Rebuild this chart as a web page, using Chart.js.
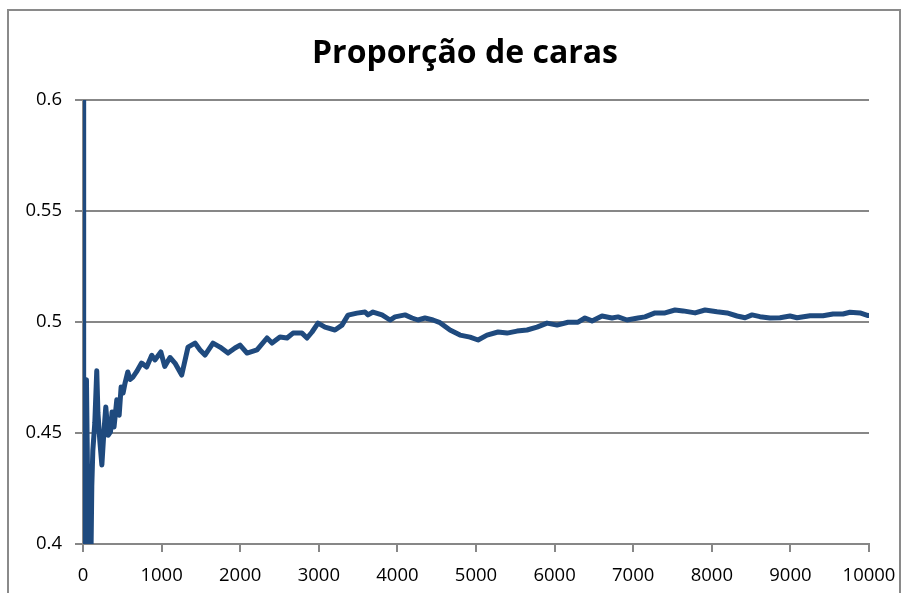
<!DOCTYPE html>
<html>
<head>
<meta charset="utf-8">
<script src="https://cdn.jsdelivr.net/npm/chart.js@4.4.1/dist/chart.umd.min.js"></script>
<style>
  html, body { margin: 0; padding: 0; background: #ffffff; overflow: hidden; }
  #wrap { position: relative; width: 914px; height: 593px; }
  #frame { position: absolute; left: 7px; top: 9px; width: 894px; height: 620px; border: 2px solid #8a8a8a; box-sizing: border-box; }
  #c { position: absolute; left: 0; top: 0; }
</style>
</head>
<body>
<div id="wrap">
  <div id="frame"></div>
  <canvas id="c" width="914" height="593"></canvas>
</div>
<script>
const TITLE = 'Proporção de caras';

// number of tosses (x)
const tosses = [
  1, 5, 12, 25, 44, 58, 75, 100, 112, 125, 150, 175, 190, 215, 240, 265, 290, 320, 350, 370,
  395, 430, 460, 485, 510, 535, 570, 600, 635, 680, 745, 810, 875, 915, 990, 1040, 1107, 1170, 1256, 1336,
  1425, 1489, 1552, 1654, 1743, 1845, 1934, 1998, 2087, 2214, 2341, 2405, 2506, 2596, 2672, 2761, 2786, 2850, 2914, 2990,
  3079, 3206, 3295, 3372, 3486, 3588, 3626, 3690, 3804, 3906, 3970, 4097, 4186, 4262, 4351, 4453, 4542, 4669, 4797, 4924,
  5026, 5140, 5280, 5395, 5522, 5649, 5776, 5904, 6031, 6171, 6298, 6387, 6476, 6603, 6730, 6807, 6921, 7061, 7150, 7278,
  7405, 7532, 7634, 7787, 7914, 8066, 8194, 8321, 8423, 8512, 8613, 8741, 8868, 8995, 9084, 9250, 9415, 9542, 9669, 9758,
  9886, 9988, 10000
];

// running proportion of heads (y)
const proportion = [
  1.0, 0.6, 0.333, 0.38, 0.474, 0.43, 0.39, 0.39, 0.426, 0.442, 0.4545, 0.478, 0.459, 0.446, 0.4356, 0.45, 0.4617, 0.449, 0.4505, 0.4595,
  0.4527, 0.465, 0.458, 0.4707, 0.468, 0.4725, 0.4775, 0.4741, 0.4752, 0.4775, 0.4815, 0.4797, 0.485, 0.4829, 0.4865, 0.480, 0.484, 0.4815, 0.4761, 0.4887,
  0.4905, 0.4874, 0.4851, 0.4905, 0.4887, 0.486, 0.4883, 0.4896, 0.486, 0.4874, 0.4928, 0.4905, 0.4932, 0.4928, 0.495, 0.495, 0.495, 0.4928, 0.4955, 0.4995,
  0.4977, 0.4964, 0.4986, 0.5031, 0.504, 0.5045, 0.5032, 0.5045, 0.5032, 0.5009, 0.5023, 0.5032, 0.5018, 0.5009, 0.5018, 0.5009, 0.4997, 0.4964, 0.4941, 0.4932,
  0.4919, 0.4941, 0.4955, 0.495, 0.4959, 0.4964, 0.4977, 0.4995, 0.4986, 0.4999, 0.4999, 0.5018, 0.5005, 0.5027, 0.5018, 0.5023, 0.5009, 0.5018, 0.5023, 0.5041,
  0.5041, 0.5054, 0.505, 0.5041, 0.5054, 0.5046, 0.5041, 0.5027, 0.5019, 0.5032, 0.5024, 0.5018, 0.5019, 0.5027, 0.5019, 0.5028, 0.5028, 0.5036, 0.5036, 0.5044,
  0.5041, 0.5029, 0.503
];

const xTickLabels = ['0', '1000', '2000', '3000', '4000', '5000', '6000', '7000', '8000', '9000', '10000'];
const yTickLabels = ['0.4', '0.45', '0.5', '0.55', '0.6'];

const GRID = '#878787';
const LINE = '#1F4A7E';
const tickFont = { family: '"Open Sans", "DejaVu Sans", sans-serif', size: 18.5 };

const points = tosses.map((n, i) => ({ x: n, y: proportion[i] }));

const titlePlugin = {
  id: 'centeredTitle',
  afterDraw(chart) {
    const ctx = chart.ctx;
    ctx.save();
    ctx.fillStyle = '#000000';
    ctx.font = 'bold 32px "Open Sans", sans-serif';
    ctx.textAlign = 'center';
    ctx.textBaseline = 'middle';
    ctx.fillText(TITLE, 465, 54);
    ctx.restore();
  }
};

new Chart(document.getElementById('c'), {
  type: 'line',
  data: {
    datasets: [{
      data: points,
      borderColor: LINE,
      borderWidth: 5,
      pointRadius: 0,
      tension: 0,
      fill: false,
      clip: 0,
      borderJoinStyle: 'round',
      borderCapStyle: 'round'
    }]
  },
  options: {
    responsive: false,
    devicePixelRatio: 1,
    animation: false,
    layout: { padding: { left: 0, right: 45, top: 100, bottom: 0 } },
    plugins: {
      legend: { display: false },
      tooltip: { enabled: false },
      title: { display: false }
    },
    scales: {
      x: {
        type: 'linear',
        min: 0,
        max: 10000,
        ticks: {
          stepSize: 1000,
          autoSkip: false,
          maxRotation: 0,
          color: '#000000',
          font: tickFont,
          padding: 13,
          callback: (v, i) => xTickLabels[i]
        },
        grid: { drawOnChartArea: false, drawTicks: true, tickLength: 8, color: GRID, lineWidth: 2 },
        border: { display: true, color: GRID, width: 2 },
        afterFit: (s) => { s.height = 49; }
      },
      y: {
        min: 0.4,
        max: 0.6,
        ticks: {
          stepSize: 0.05,
          color: '#000000',
          font: tickFont,
          padding: 13,
          callback: (v, i) => yTickLabels[i]
        },
        grid: { drawOnChartArea: true, drawTicks: true, tickLength: 8, color: GRID, lineWidth: 2 },
        border: { display: true, color: GRID, width: 2 },
        afterFit: (s) => { s.width = 83; }
      }
    }
  },
  plugins: [titlePlugin]
});
</script>
</body>
</html>
